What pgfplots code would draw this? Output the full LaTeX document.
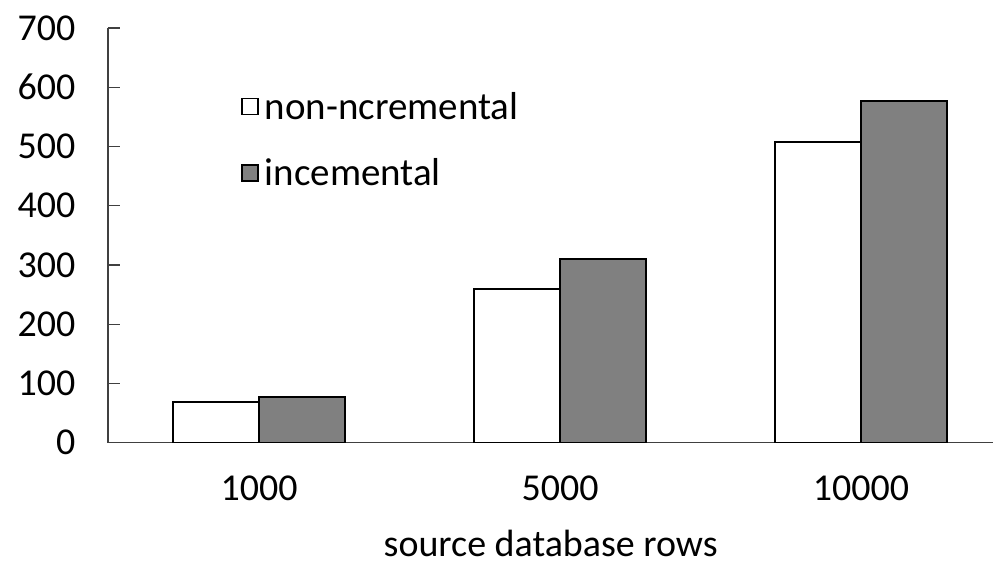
\documentclass[border=0pt]{standalone}
\usepackage{fontspec}
\setmainfont{Carlito}
\usepackage{pgfplots}
\pgfplotsset{compat=1.18}
\begin{document}
\begin{tikzpicture}[x=1pt,y=1pt]
\begin{axis}[
  scale only axis,
  width=886pt, height=415pt,
  at={(0,0)}, anchor=south west,
  ybar=0pt, bar width=86pt,
  xmin=-0.502, xmax=2.44,
  ymin=0, ymax=700,
  ytick={0,100,...,700},
  xtick={0,1,2},
  xticklabels={1000,5000,10000},
  axis x line=bottom, axis y line=left,
  axis line style={-, line width=1.2pt, black!75},
  x axis line style={-},
  major tick length=12pt,
  tick align=inside,
  xtick style={draw=none},
  ytick style={line width=1.2pt, black!75},
  /pgf/number format/assume math mode=true,
  /pgf/number format/1000 sep={},
  tick label style={font=\fontsize{38}{45}\selectfont},
  yticklabel style={xshift=-29pt},
  xticklabel style={yshift=-30pt},
  xlabel={source database rows},
  xlabel style={font=\fontsize{38}{45}\selectfont, inner sep=0pt, yshift=-25pt},
  legend style={draw=none, fill=none, at={(0.147,0.855)}, anchor=north west,
    font=\fontsize{39}{46}\selectfont, row sep=34pt,
    /tikz/every even column/.append style={column sep=2pt}},
  legend cell align=left,
  legend image code/.code={\draw[line width=1.5pt,#1] (0pt,-8pt) rectangle (16pt,8pt);},
  legend style={/tikz/every odd column/.append style={column sep=4pt}},
]
\addplot[draw=black, line width=2pt, fill=white] coordinates {(0,69) (1,260) (2,508)};
\addplot[draw=black, line width=2pt, fill=black!50] coordinates {(0,77) (1,310) (2,577)};
\legend{non-ncremental, incemental}
\end{axis}
\path[use as bounding box] (-108,-126) rectangle (886,443);
\end{tikzpicture}
\end{document}
